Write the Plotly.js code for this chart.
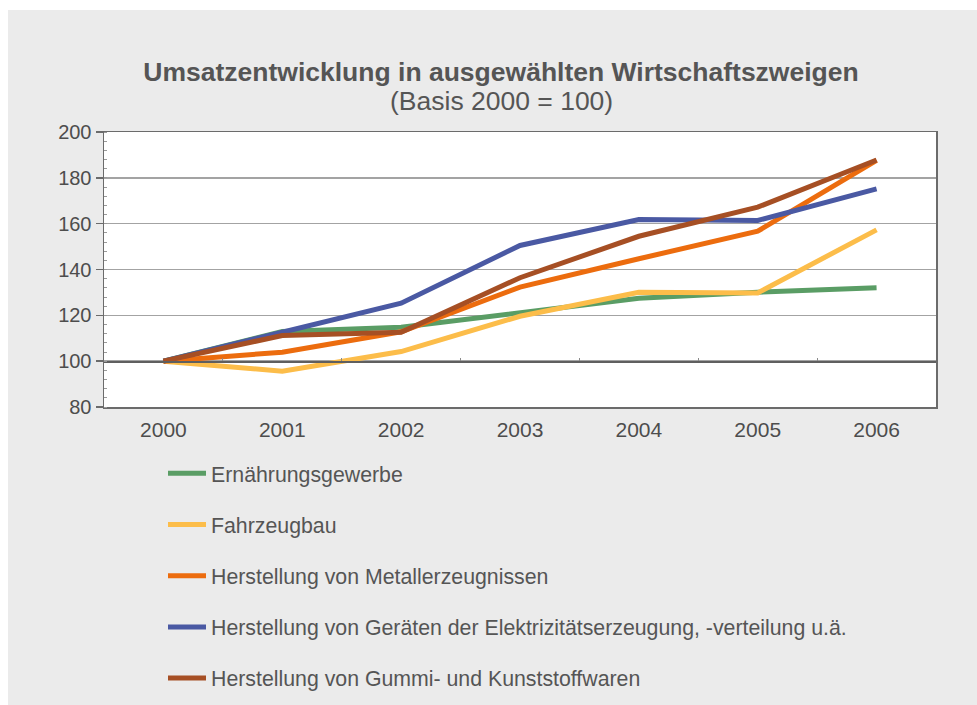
<!DOCTYPE html>
<html>
<head>
<meta charset="utf-8">
<script src="https://cdn.plot.ly/plotly-3.0.1.min.js"></script>
<style>
html,body{margin:0;padding:0;background:#ffffff;}
#chart{position:absolute;left:8px;top:10px;width:969px;height:695px;}
</style>
</head>
<body>
<div id="chart"></div>
<script>
var years = ['2000','2001','2002','2003','2004','2005','2006'];
var seriesNames = [
  'Ernährungsgewerbe',
  'Fahrzeugbau',
  'Herstellung von Metallerzeugnissen',
  'Herstellung von Geräten der Elektrizitätserzeugung, -verteilung u.ä.',
  'Herstellung von Gummi- und Kunststoffwaren'
];
var ernaehrung = [100, 113, 114.8, 121.4, 127.5, 130.1, 132];
var fahrzeugbau = [100, 95.6, 104.2, 119.6, 130.1, 129.8, 157.3];
var metall = [100, 103.9, 112.8, 132.3, 144.7, 156.7, 187.6];
var elektro = [100, 112.4, 125.3, 150.5, 161.8, 161.4, 175.2];
var gummi = [100, 111.2, 112.6, 136.4, 154.5, 167.2, 187.8];
var seriesValues = [ernaehrung, fahrzeugbau, metall, elektro, gummi];
var seriesColors = ['#5a9d65', '#fcbd4a', '#ec6c0e', '#4a59a3', '#a64f24'];
var titleText = 'Umsatzentwicklung in ausgewählten Wirtschaftszweigen';
var subtitleText = '(Basis 2000 = 100)';

var traces = seriesValues.map(function(vals, i){
  return {
    type: 'scatter', mode: 'lines',
    x: years, y: vals, name: seriesNames[i],
    legendgroup: 'g' + i,
    line: {color: seriesColors[i], width: 5, shape: 'linear'},
    hoverinfo: 'x+y+name'
  };
});
// helper trace for the category axis drawn at the 100 level
traces.push({type:'scatter', mode:'lines', x: years, y: years.map(function(){return null;}),
  xaxis:'x2', yaxis:'y', showlegend:false, hoverinfo:'skip'});

var textColor = '#4d4d4d';
var W = 969, H = 695;
var plotTop = 122, plotBottom = 397, plotH = plotBottom - plotTop;
var titleCx = (501 - 8) / W;
var layout = {
  width: W, height: H,
  paper_bgcolor: '#ebebeb',
  plot_bgcolor: '#ffffff',
  margin: {l: 96, r: 41, t: plotTop, b: H - plotBottom, autoexpand: false},
  font: {family: 'Liberation Sans, Arial, sans-serif', color: textColor, size: 20},
  title: {
    text: '<b>' + titleText + '</b>',
    font: {family: 'Liberation Sans, Arial, sans-serif', size: 26.5, color: '#555555'},
    x: titleCx, xref: 'container', xanchor: 'center',
    y: 1 - 62/H, yref: 'container', yanchor: 'middle'
  },
  annotations: [{
    text: subtitleText, showarrow: false,
    xref: 'paper', yref: 'paper',
    x: (501 - 8 - 96) / (W - 96 - 41), y: 1 + (plotTop - 91) / plotH,
    xanchor: 'center', yanchor: 'middle',
    font: {family: 'Liberation Sans, Arial, sans-serif', size: 26.5, color: '#555555'}
  }],
  xaxis: {
    type: 'category', categoryorder: 'array', categoryarray: years,
    range: [-0.5, 6.5],
    showline: true, linecolor: '#6b6b6b', linewidth: 1.5, mirror: true,
    showgrid: false, zeroline: false,
    ticks: 'outside', ticklen: 3, tickcolor: 'rgba(0,0,0,0)',
    tickfont: {size: 21, color: textColor}
  },
  xaxis2: {
    type: 'category', categoryorder: 'array', categoryarray: years,
    range: [-0.5, 6.5], overlaying: 'x', anchor: 'free', position: (100-80)/120,
    showline: true, linecolor: '#5f5f5f', linewidth: 1.5,
    ticks: 'inside', tickson: 'boundaries', ticklen: 3, tickcolor: '#8a8a8a', tickwidth: 1,
    showticklabels: false, showgrid: false, zeroline: false
  },
  yaxis: {
    range: [80, 200], dtick: 20, tick0: 80,
    showline: true, linecolor: '#6b6b6b', linewidth: 1.5, mirror: true,
    showgrid: true, gridcolor: '#a3a3a3', gridwidth: 1.5, zeroline: false,
    ticks: 'outside', ticklen: 7, tickcolor: '#6b6b6b', tickwidth: 1.5,
    tickfont: {size: 20, color: textColor},
    minor: {dtick: 4, ticks: 'inside', ticklen: 3, tickcolor: '#9a9a9a', tickwidth: 1, showgrid: false}
  },
  showlegend: true,
  legend: {
    orientation: 'v', traceorder: 'grouped', tracegroupgap: 20.5,
    x: (155 - 96)/832, xanchor: 'left', xref: 'paper',
    y: -(443 - plotBottom)/plotH, yanchor: 'top', yref: 'paper',
    bgcolor: 'rgba(0,0,0,0)', borderwidth: 0,
    font: {size: 21.3, color: '#555555'},
    itemwidth: 38
  }
};

Plotly.newPlot('chart', traces, layout, {displayModeBar: false, staticPlot: true});
</script>
</body>
</html>
